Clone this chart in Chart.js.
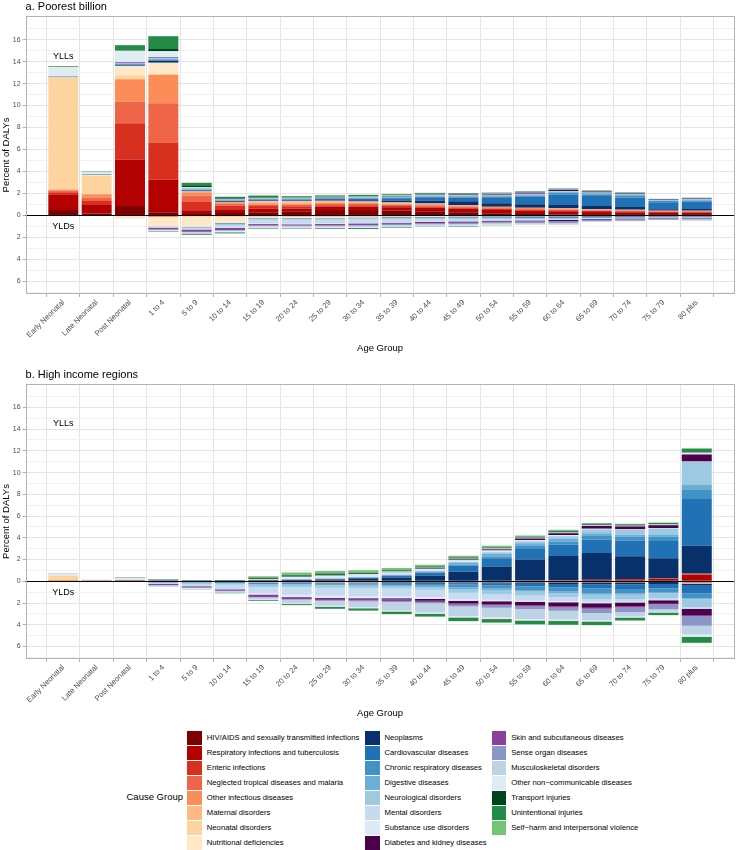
<!doctype html>
<html>

<head>
    <title>DALYs by age group</title>
    <script src="https://cdn.jsdelivr.net/npm/chart.js@4.4.1/dist/chart.umd.min.js"></script>
    <style>
        body { margin: 0; background: #fff; font-family: "Liberation Sans", Arial, sans-serif; }
        #wrap { position: relative; width: 738px; height: 850px; }
        canvas { position: absolute; left: 0; }
        .key { position: absolute; width: 14.5px; height: 14px; }
        .lab { position: absolute; font-size: 7.7px; line-height: 14px; color: #000; white-space: nowrap; }
        #ltitle { position: absolute; font-size: 9.5px; line-height: 14px; color: #000; white-space: nowrap; }
    </style>
</head>

<body>
    <div id="wrap">
        <canvas id="chartA" width="738" height="365" style="top:0"></canvas>
        <canvas id="chartB" width="738" height="365" style="top:365px"></canvas>
        <div id="legend"></div>
    </div>
    <script>
        var ages = ["Early Neonatal", "Late Neonatal", "Post Neonatal", "1 to 4", "5 to 9", "10 to 14",
            "15 to 19", "20 to 24", "25 to 29", "30 to 34", "35 to 39", "40 to 44", "45 to 49",
            "50 to 54", "55 to 59", "60 to 64", "65 to 69", "70 to 74", "75 to 79", "80 plus"];

        var causes = ["HIV/AIDS and sexually transmitted infections", "Respiratory infections and tuberculosis",
            "Enteric infections", "Neglected tropical diseases and malaria", "Other infectious diseases",
            "Maternal disorders", "Neonatal disorders", "Nutritional deficiencies",
            "Neoplasms", "Cardiovascular diseases", "Chronic respiratory diseases", "Digestive diseases",
            "Neurological disorders", "Mental disorders", "Substance use disorders", "Diabetes and kidney diseases",
            "Skin and subcutaneous diseases", "Sense organ diseases", "Musculoskeletal disorders",
            "Other non\u2212communicable diseases", "Transport injuries", "Unintentional injuries",
            "Self\u2212harm and interpersonal violence"];

        var causeColors = ["#7f0000", "#b30000", "#d7301f", "#ef6548", "#fc8d59", "#fdbb84", "#fdd49e", "#fee8c8",
            "#08306b", "#2171b5", "#4292c6", "#6baed6", "#9ecae1", "#c6dbef", "#deebf7", "#4d004b",
            "#88419d", "#8c96c6", "#bfd3e6", "#e0ecf4", "#00441b", "#238b45", "#74c476"];

        var yTicks = [-7, -6, -5, -4, -3, -2, -1, 0, 1, 2, 3, 4, 5, 6, 7, 8, 9, 10, 11, 12, 13, 14, 15, 16, 17];

        // rows = age groups, columns = causes (same order as above), percent of DALYs
        var poorYLL = [
            [0.49, 1.38, 0.25, 0.12, 0.12, 0.02, 10.2, 0, 0.01, 0.02, 0.01, 0.01, 0.05, 0, 0, 0.01, 0, 0, 0, 0.83, 0.01, 0.03, 0.05],
            [0.18, 0.77, 0.37, 0.3, 0.3, 0.01, 1.71, 0.05, 0.01, 0.01, 0, 0, 0.05, 0, 0, 0, 0, 0, 0, 0.18, 0, 0.03, 0.03],
            [0.85, 4.25, 3.3, 1.95, 2.05, 0, 0.35, 0.85, 0.03, 0.1, 0.05, 0.03, 0.05, 0, 0, 0.02, 0.05, 0, 0, 1.05, 0.05, 0.45, 0.02],
            [0.3, 2.95, 3.35, 3.6, 2.6, 0, 0.05, 1.05, 0.15, 0.08, 0.05, 0.05, 0.1, 0, 0, 0.02, 0.05, 0, 0, 0.55, 0.2, 1.15, 0.03],
            [0.12, 0.35, 0.75, 0.6, 0.3, 0, 0, 0.05, 0.07, 0.07, 0.03, 0.05, 0.06, 0, 0, 0.02, 0.01, 0, 0, 0.08, 0.12, 0.28, 0.02],
            [0.22, 0.35, 0.32, 0.2, 0.12, 0, 0, 0.02, 0.05, 0.05, 0.02, 0.03, 0.04, 0, 0.01, 0.01, 0, 0, 0, 0.05, 0.05, 0.15, 0.02],
            [0.3, 0.3, 0.25, 0.15, 0.12, 0.15, 0, 0.02, 0.06, 0.1, 0.02, 0.04, 0.04, 0, 0.01, 0.02, 0, 0, 0, 0.04, 0.06, 0.12, 0.03],
            [0.38, 0.25, 0.2, 0.12, 0.12, 0.2, 0, 0.02, 0.06, 0.1, 0.02, 0.04, 0.03, 0, 0.01, 0.02, 0, 0, 0, 0.03, 0.05, 0.1, 0.03],
            [0.5, 0.28, 0.15, 0.1, 0.1, 0.18, 0, 0.02, 0.08, 0.12, 0.02, 0.05, 0.03, 0, 0.01, 0.03, 0, 0, 0, 0.03, 0.04, 0.08, 0.03],
            [0.5, 0.3, 0.13, 0.1, 0.1, 0.12, 0, 0.02, 0.12, 0.15, 0.03, 0.06, 0.03, 0, 0.01, 0.04, 0, 0, 0, 0.03, 0.04, 0.07, 0.03],
            [0.45, 0.3, 0.12, 0.1, 0.1, 0.08, 0, 0.02, 0.2, 0.2, 0.04, 0.08, 0.03, 0, 0.01, 0.05, 0, 0, 0, 0.03, 0.04, 0.07, 0.03],
            [0.38, 0.32, 0.12, 0.1, 0.1, 0.04, 0, 0.02, 0.28, 0.3, 0.05, 0.1, 0.03, 0, 0.01, 0.06, 0, 0, 0, 0.03, 0.03, 0.06, 0.03],
            [0.3, 0.32, 0.1, 0.08, 0.1, 0.01, 0, 0.02, 0.35, 0.35, 0.06, 0.1, 0.03, 0, 0.01, 0.07, 0, 0, 0, 0.03, 0.03, 0.05, 0.02],
            [0.2, 0.3, 0.1, 0.08, 0.1, 0, 0, 0.02, 0.3, 0.55, 0.08, 0.1, 0.03, 0.01, 0.01, 0.08, 0.01, 0, 0, 0.03, 0.02, 0.05, 0.02],
            [0.12, 0.3, 0.1, 0.07, 0.1, 0, 0, 0.02, 0.3, 0.68, 0.12, 0.1, 0.04, 0.01, 0.01, 0.1, 0.01, 0, 0, 0.03, 0.02, 0.05, 0.02],
            [0.07, 0.3, 0.1, 0.07, 0.1, 0, 0, 0.02, 0.3, 0.95, 0.15, 0.1, 0.05, 0.01, 0, 0.1, 0.01, 0, 0, 0.03, 0.02, 0.06, 0.02],
            [0.04, 0.28, 0.09, 0.06, 0.08, 0, 0, 0.02, 0.3, 0.9, 0.15, 0.09, 0.06, 0.01, 0, 0.09, 0.01, 0, 0, 0.03, 0.01, 0.05, 0.01],
            [0.02, 0.27, 0.09, 0.05, 0.07, 0, 0, 0.02, 0.25, 0.87, 0.14, 0.08, 0.06, 0, 0, 0.07, 0.01, 0, 0, 0.03, 0.01, 0.04, 0.01],
            [0.01, 0.22, 0.08, 0.04, 0.05, 0, 0, 0.02, 0.15, 0.64, 0.1, 0.05, 0.05, 0, 0, 0.04, 0, 0, 0, 0.02, 0, 0.03, 0.01],
            [0, 0.24, 0.09, 0.03, 0.05, 0, 0, 0.02, 0.15, 0.67, 0.1, 0.05, 0.1, 0, 0, 0.04, 0, 0, 0, 0.03, 0, 0.04, 0.01]
        ];

        var poorYLD = [
            [0, 0, 0, 0, 0, 0, 0.03, 0, 0, 0, 0, 0, 0, 0, 0, 0, 0, 0, 0, 0.02, 0, 0, 0],
            [0, 0, 0, 0, 0, 0, 0.02, 0.02, 0, 0, 0, 0, 0, 0, 0, 0, 0, 0, 0, 0.01, 0, 0, 0],
            [0, 0, 0, 0, 0.03, 0, 0, 0.22, 0, 0, 0, 0, 0, 0.02, 0, 0, 0, 0, 0, 0.03, 0, 0, 0],
            [0, 0, 0, 0.05, 0.1, 0, 0, 0.85, 0, 0, 0.03, 0, 0.05, 0.05, 0, 0, 0.15, 0.02, 0, 0.1, 0.01, 0.05, 0.01],
            [0, 0, 0, 0.05, 0.03, 0, 0, 0.95, 0, 0, 0.05, 0.02, 0.08, 0.1, 0, 0, 0.2, 0.05, 0.02, 0.1, 0.02, 0.08, 0.01],
            [0, 0, 0, 0.05, 0.03, 0, 0, 0.6, 0, 0, 0.07, 0.02, 0.1, 0.25, 0.02, 0, 0.18, 0.05, 0.05, 0.1, 0.02, 0.08, 0.02],
            [0.02, 0, 0, 0.03, 0.02, 0.03, 0, 0.12, 0, 0, 0.05, 0.02, 0.1, 0.35, 0.05, 0.01, 0.12, 0.04, 0.08, 0.08, 0.02, 0.06, 0.02],
            [0.03, 0, 0, 0.03, 0.02, 0.05, 0, 0.1, 0, 0, 0.05, 0.02, 0.1, 0.35, 0.05, 0.02, 0.1, 0.04, 0.1, 0.06, 0.02, 0.05, 0.01],
            [0.03, 0, 0, 0.03, 0.02, 0.05, 0, 0.08, 0, 0, 0.05, 0.03, 0.1, 0.35, 0.05, 0.03, 0.09, 0.05, 0.12, 0.06, 0.02, 0.05, 0.01],
            [0.03, 0, 0, 0.03, 0.02, 0.03, 0, 0.07, 0, 0, 0.06, 0.03, 0.1, 0.33, 0.04, 0.04, 0.09, 0.06, 0.15, 0.07, 0.02, 0.06, 0.01],
            [0.03, 0, 0, 0.02, 0.02, 0.02, 0, 0.06, 0, 0, 0.06, 0.03, 0.09, 0.3, 0.03, 0.05, 0.08, 0.07, 0.15, 0.06, 0.02, 0.05, 0.01],
            [0.02, 0, 0, 0.02, 0.02, 0, 0, 0.05, 0.01, 0.02, 0.07, 0.03, 0.08, 0.25, 0.03, 0.06, 0.07, 0.08, 0.14, 0.05, 0.01, 0.04, 0],
            [0.02, 0, 0, 0.02, 0.02, 0, 0, 0.04, 0.01, 0.03, 0.08, 0.03, 0.08, 0.2, 0.02, 0.07, 0.06, 0.09, 0.14, 0.05, 0.01, 0.04, 0],
            [0.02, 0, 0, 0.02, 0.01, 0, 0, 0.03, 0.01, 0.04, 0.09, 0.03, 0.07, 0.15, 0.01, 0.08, 0.05, 0.1, 0.12, 0.04, 0, 0.02, 0],
            [0.02, 0, 0, 0.02, 0.01, 0, 0, 0.03, 0.01, 0.05, 0.1, 0.03, 0.06, 0.11, 0.01, 0.08, 0.04, 0.12, 0.1, 0.03, 0, 0.02, 0],
            [0.02, 0, 0, 0.02, 0.01, 0, 0, 0.03, 0.01, 0.06, 0.1, 0.03, 0.06, 0.08, 0, 0.09, 0.04, 0.14, 0.09, 0.03, 0, 0.02, 0],
            [0.02, 0, 0, 0.01, 0.01, 0, 0, 0.02, 0.01, 0.05, 0.08, 0.02, 0.05, 0.05, 0, 0.06, 0.03, 0.12, 0.03, 0.02, 0, 0, 0],
            [0.02, 0, 0, 0.01, 0.01, 0, 0, 0.02, 0, 0.05, 0.07, 0.02, 0.05, 0.03, 0, 0.05, 0.03, 0.12, 0.02, 0.02, 0, 0, 0],
            [0.01, 0, 0, 0.01, 0.01, 0, 0, 0.02, 0, 0.04, 0.05, 0.01, 0.05, 0.02, 0, 0.04, 0.02, 0.11, 0.02, 0.02, 0, 0, 0],
            [0.01, 0, 0, 0.01, 0.01, 0, 0, 0.02, 0, 0.05, 0.04, 0.01, 0.06, 0.01, 0, 0.03, 0.02, 0.1, 0.02, 0.02, 0, 0.02, 0]
        ];

        var highYLL = [
            [0, 0.01, 0, 0, 0.01, 0, 0.48, 0, 0, 0, 0, 0, 0, 0, 0, 0, 0, 0, 0, 0.18, 0, 0.01, 0.01],
            [0, 0.01, 0, 0, 0, 0, 0.06, 0, 0, 0, 0, 0, 0.01, 0, 0, 0, 0, 0, 0, 0.1, 0, 0.01, 0],
            [0, 0.03, 0, 0, 0.01, 0, 0.02, 0, 0.01, 0.01, 0, 0, 0.05, 0, 0, 0, 0, 0, 0, 0.2, 0.01, 0.03, 0.01],
            [0, 0.01, 0, 0, 0, 0, 0, 0, 0.04, 0.01, 0, 0, 0.03, 0, 0, 0, 0, 0, 0, 0.05, 0.02, 0.04, 0],
            [0, 0, 0, 0, 0, 0, 0, 0, 0.03, 0, 0, 0, 0.01, 0, 0, 0, 0, 0, 0, 0.02, 0.02, 0.02, 0],
            [0, 0, 0, 0, 0, 0, 0, 0, 0.03, 0, 0, 0, 0.01, 0, 0, 0, 0, 0, 0, 0.02, 0.03, 0.02, 0.01],
            [0, 0.01, 0, 0, 0.01, 0, 0, 0, 0.05, 0.03, 0, 0, 0.02, 0, 0.04, 0, 0, 0, 0, 0.03, 0.1, 0.05, 0.12],
            [0, 0.02, 0, 0, 0.01, 0, 0, 0, 0.06, 0.05, 0.01, 0.02, 0.03, 0.01, 0.15, 0.01, 0, 0, 0, 0.04, 0.12, 0.07, 0.2],
            [0, 0.03, 0, 0, 0.01, 0, 0, 0, 0.1, 0.07, 0.01, 0.03, 0.03, 0.01, 0.2, 0.02, 0, 0, 0, 0.04, 0.1, 0.08, 0.22],
            [0, 0.03, 0, 0, 0.01, 0, 0, 0, 0.18, 0.1, 0.01, 0.04, 0.03, 0.01, 0.18, 0.02, 0, 0, 0, 0.04, 0.08, 0.08, 0.2],
            [0, 0.04, 0, 0, 0.01, 0, 0, 0, 0.3, 0.15, 0.02, 0.07, 0.04, 0.01, 0.17, 0.03, 0.01, 0, 0, 0.04, 0.07, 0.08, 0.18],
            [0, 0.04, 0, 0, 0.01, 0, 0, 0, 0.48, 0.25, 0.04, 0.1, 0.05, 0.01, 0.15, 0.05, 0.01, 0, 0, 0.05, 0.06, 0.08, 0.15],
            [0, 0.04, 0, 0, 0.01, 0, 0, 0, 0.83, 0.55, 0.1, 0.15, 0.1, 0.05, 0.1, 0.07, 0.02, 0, 0, 0.05, 0.05, 0.1, 0.12],
            [0, 0.04, 0, 0, 0.01, 0, 0, 0, 1.3, 0.76, 0.15, 0.25, 0.15, 0.05, 0.12, 0.1, 0.03, 0, 0, 0.05, 0.05, 0.08, 0.12],
            [0, 0.07, 0, 0, 0.01, 0, 0, 0, 1.93, 1.04, 0.2, 0.25, 0.15, 0.05, 0.1, 0.12, 0.03, 0, 0, 0.05, 0.04, 0.08, 0.1],
            [0, 0.1, 0.01, 0, 0.01, 0, 0, 0, 2.2, 1.07, 0.25, 0.25, 0.25, 0.03, 0.08, 0.18, 0.03, 0, 0, 0.05, 0.03, 0.1, 0.1],
            [0, 0.13, 0.01, 0, 0.01, 0, 0, 0, 2.45, 1.22, 0.35, 0.25, 0.35, 0.02, 0.05, 0.25, 0.03, 0, 0, 0.06, 0.03, 0.1, 0.06],
            [0, 0.18, 0.01, 0, 0.01, 0, 0, 0, 2.1, 1.44, 0.35, 0.2, 0.45, 0.02, 0.03, 0.25, 0.03, 0, 0, 0.05, 0.03, 0.1, 0.04],
            [0, 0.23, 0.01, 0, 0.01, 0, 0, 0, 1.86, 1.6, 0.4, 0.2, 0.55, 0.02, 0.02, 0.25, 0.03, 0, 0, 0.05, 0.02, 0.12, 0.03],
            [0, 0.6, 0.05, 0, 0.05, 0, 0, 0, 2.57, 4.37, 0.76, 0.46, 2.14, 0, 0.02, 0.61, 0.05, 0, 0.05, 0.1, 0.02, 0.34, 0.04]
        ];

        var highYLD = [
            [0, 0, 0, 0, 0, 0, 0.02, 0, 0, 0, 0, 0, 0, 0, 0, 0, 0, 0, 0, 0.01, 0, 0, 0],
            [0, 0, 0, 0, 0, 0, 0.01, 0, 0, 0, 0, 0, 0, 0, 0, 0, 0, 0, 0, 0.01, 0, 0, 0],
            [0, 0, 0, 0, 0.01, 0, 0.01, 0, 0, 0, 0, 0, 0, 0, 0, 0, 0.01, 0, 0, 0.01, 0, 0, 0],
            [0, 0, 0, 0, 0.05, 0, 0, 0.05, 0, 0, 0.05, 0, 0.05, 0.05, 0, 0, 0.1, 0.03, 0, 0.06, 0, 0.02, 0],
            [0, 0, 0, 0, 0.05, 0, 0, 0.03, 0, 0, 0.1, 0, 0.08, 0.2, 0, 0, 0.12, 0.03, 0.02, 0.07, 0, 0.03, 0],
            [0, 0, 0, 0, 0.05, 0, 0, 0.02, 0, 0, 0.12, 0, 0.12, 0.4, 0.02, 0, 0.15, 0.03, 0.05, 0.07, 0.01, 0.05, 0],
            [0, 0, 0, 0, 0.05, 0.03, 0, 0, 0.02, 0.02, 0.15, 0.05, 0.2, 0.55, 0.15, 0.03, 0.2, 0.05, 0.12, 0.08, 0.03, 0.05, 0.02],
            [0, 0, 0, 0, 0.05, 0.05, 0, 0, 0.02, 0.03, 0.12, 0.05, 0.22, 0.7, 0.2, 0.04, 0.18, 0.05, 0.3, 0.08, 0.03, 0.06, 0.02],
            [0, 0, 0, 0, 0.05, 0.07, 0, 0, 0.03, 0.04, 0.12, 0.06, 0.22, 0.75, 0.2, 0.06, 0.15, 0.06, 0.45, 0.08, 0.03, 0.15, 0.02],
            [0, 0, 0, 0, 0.05, 0.07, 0, 0, 0.04, 0.05, 0.12, 0.07, 0.22, 0.75, 0.18, 0.08, 0.14, 0.08, 0.55, 0.08, 0.03, 0.17, 0.02],
            [0, 0, 0, 0, 0.05, 0.05, 0, 0, 0.05, 0.07, 0.13, 0.08, 0.23, 0.75, 0.15, 0.12, 0.13, 0.1, 0.77, 0.1, 0.03, 0.2, 0.02],
            [0, 0, 0, 0, 0.06, 0.04, 0, 0, 0.06, 0.1, 0.16, 0.1, 0.25, 0.7, 0.15, 0.17, 0.12, 0.12, 0.85, 0.11, 0.03, 0.23, 0.02],
            [0, 0, 0, 0, 0.06, 0, 0, 0.04, 0.08, 0.12, 0.25, 0.15, 0.35, 0.6, 0.15, 0.25, 0.12, 0.15, 0.9, 0.12, 0.03, 0.28, 0.02],
            [0, 0, 0, 0, 0.05, 0, 0, 0.03, 0.12, 0.18, 0.28, 0.15, 0.35, 0.55, 0.12, 0.3, 0.1, 0.2, 0.9, 0.13, 0.03, 0.3, 0.02],
            [0, 0, 0, 0, 0.05, 0, 0, 0.03, 0.15, 0.25, 0.32, 0.15, 0.35, 0.48, 0.1, 0.35, 0.1, 0.25, 0.9, 0.13, 0.03, 0.32, 0.02],
            [0, 0, 0, 0, 0.05, 0, 0, 0.03, 0.18, 0.3, 0.38, 0.15, 0.35, 0.4, 0.08, 0.4, 0.1, 0.3, 0.8, 0.12, 0.03, 0.33, 0.02],
            [0, 0, 0, 0, 0.05, 0, 0, 0.03, 0.2, 0.38, 0.42, 0.15, 0.4, 0.33, 0.05, 0.42, 0.1, 0.38, 0.67, 0.12, 0.03, 0.3, 0.01],
            [0, 0, 0, 0, 0.05, 0, 0, 0.03, 0.2, 0.42, 0.42, 0.13, 0.42, 0.25, 0.03, 0.38, 0.08, 0.42, 0.4, 0.1, 0.02, 0.25, 0.01],
            [0, 0, 0, 0, 0.04, 0, 0, 0.03, 0.17, 0.4, 0.35, 0.1, 0.45, 0.18, 0.02, 0.32, 0.07, 0.45, 0.22, 0.08, 0.01, 0.22, 0.01],
            [0, 0.05, 0.05, 0, 0.05, 0, 0, 0.05, 0.15, 0.75, 0.45, 0.1, 0.75, 0.15, 0, 0.55, 0.1, 0.9, 0.8, 0.2, 0, 0.55, 0.03]
        ];

        var FONT = '"Liberation Sans", Arial, sans-serif';
        Chart.defaults.font.family = FONT;

        // YLLs stacked upwards, YLDs stacked downwards, same cause order
        function buildDatasets(yll, yld) {
            var sets = [];
            causes.forEach(function (name, c) {
                sets.push({
                    label: name,
                    data: ages.map(function (a, i) { return { x: i, y: yll[i][c] }; }),
                    backgroundColor: causeColors[c]
                });
            });
            causes.forEach(function (name, c) {
                sets.push({
                    label: name + ' YLD',
                    data: ages.map(function (a, i) { return { x: i, y: -yld[i][c] }; }),
                    backgroundColor: causeColors[c]
                });
            });
            return sets;
        }

        var decor = {
            id: 'decor',
            afterDatasetsDraw: function (chart, args, opts) {
                var ctx = chart.ctx, a = chart.chartArea, x = chart.scales.x, y = chart.scales.y;
                ctx.save();
                var y0 = Math.round(y.getPixelForValue(0)) + 0.5;
                ctx.strokeStyle = '#000';
                ctx.lineWidth = 1;
                ctx.beginPath();
                ctx.moveTo(a.left, y0);
                ctx.lineTo(a.right, y0);
                ctx.stroke();

                ctx.strokeStyle = '#b3b3b3';
                ctx.strokeRect(Math.round(a.left) + 0.5, Math.round(a.top) + 0.5,
                    Math.round(a.right - a.left) - 1, Math.round(a.bottom - a.top) - 1);

                ctx.fillStyle = '#000';
                ctx.textBaseline = 'middle';
                ctx.textAlign = 'center';
                ctx.font = '9px ' + FONT;
                ctx.fillText('YLLs', x.getPixelForValue(0), y.getPixelForValue(14.5));
                ctx.fillText('YLDs', x.getPixelForValue(0), y.getPixelForValue(-1));

                ctx.font = '9.5px ' + FONT;
                ctx.fillText('Age Group', (a.left + a.right) / 2, a.bottom + 54);

                ctx.textAlign = 'left';
                ctx.font = '11px ' + FONT;
                ctx.fillText(opts.title, a.left, a.top - 9.5);

                ctx.translate(6, (a.top + a.bottom) / 2);
                ctx.rotate(-Math.PI / 2);
                ctx.textAlign = 'center';
                ctx.font = '9.5px ' + FONT;
                ctx.fillText('Percent of DALYs', 0, 0);
                ctx.restore();
            }
        };

        function makeChart(id, yll, yld, title, padTop) {
            var ctx = document.getElementById(id).getContext('2d');
            return new Chart(ctx, {
                type: 'bar',
                data: { datasets: buildDatasets(yll, yld) },
                plugins: [decor],
                options: {
                    responsive: false,
                    animation: false,
                    layout: { padding: { top: padTop, right: 3.5, left: 0, bottom: 0 } },
                    datasets: { bar: { categoryPercentage: 1, barPercentage: 0.9 } },
                    plugins: {
                        legend: { display: false },
                        tooltip: { enabled: false },
                        decor: { title: title }
                    },
                    scales: {
                        x: {
                            type: 'linear',
                            stacked: true,
                            min: -0.6,
                            max: 19.6,
                            afterBuildTicks: function (axis) {
                                axis.ticks = ages.map(function (a, i) { return { value: i }; });
                            },
                            afterFit: function (scale) { scale.height = 71; },
                            ticks: {
                                autoSkip: false,
                                minRotation: 45,
                                maxRotation: 45,
                                padding: 1,
                                color: '#4d4d4d',
                                font: { size: 7.6 },
                                callback: function (v) { return ages[v]; }
                            },
                            grid: { color: '#e4e4e4', tickColor: '#b3b3b3', tickLength: 3 },
                            border: { display: false }
                        },
                        y: {
                            stacked: true,
                            min: -7.15,
                            max: 18.15,
                            afterBuildTicks: function (axis) {
                                axis.ticks = yTicks.map(function (v) { return { value: v }; });
                            },
                            afterFit: function (scale) { scale.width = 25.6; },
                            ticks: {
                                padding: 2,
                                color: '#4d4d4d',
                                font: { size: 7 },
                                callback: function (v) { return v % 2 === 0 ? String(Math.abs(v)) : ''; }
                            },
                            grid: {
                                color: function (c) { return c.tick && c.tick.value % 2 === 0 ? '#e4e4e4' : '#f1f1f1'; },
                                tickColor: function (c) { return c.tick && c.tick.value % 2 === 0 ? '#b3b3b3' : 'rgba(0,0,0,0)'; },
                                tickLength: 3
                            },
                            border: { display: false }
                        }
                    }
                }
            });
        }

        makeChart('chartA', poorYLL, poorYLD, 'a. Poorest billion', 16);
        makeChart('chartB', highYLL, highYLD, 'b. High income regions', 19);

        // legend, three columns of eight
        var legend = document.getElementById('legend');
        var colX = [187.3, 365, 491.7];
        var html = '<div id="ltitle" style="right:' + (738 - 183) + 'px;top:' + (797 - 7) + 'px">Cause Group</div>';
        causes.forEach(function (name, c) {
            var col = Math.floor(c / 8), row = c % 8;
            var cy = 738.3 + row * 15;
            html += '<div class="key" style="left:' + colX[col] + 'px;top:' + (cy - 7) + 'px;background:' + causeColors[c] + '"></div>';
            html += '<div class="lab" style="left:' + (colX[col] + 19.5) + 'px;top:' + (cy - 7) + 'px">' + name + '</div>';
        });
        legend.innerHTML = html;
    </script>
</body>

</html>
